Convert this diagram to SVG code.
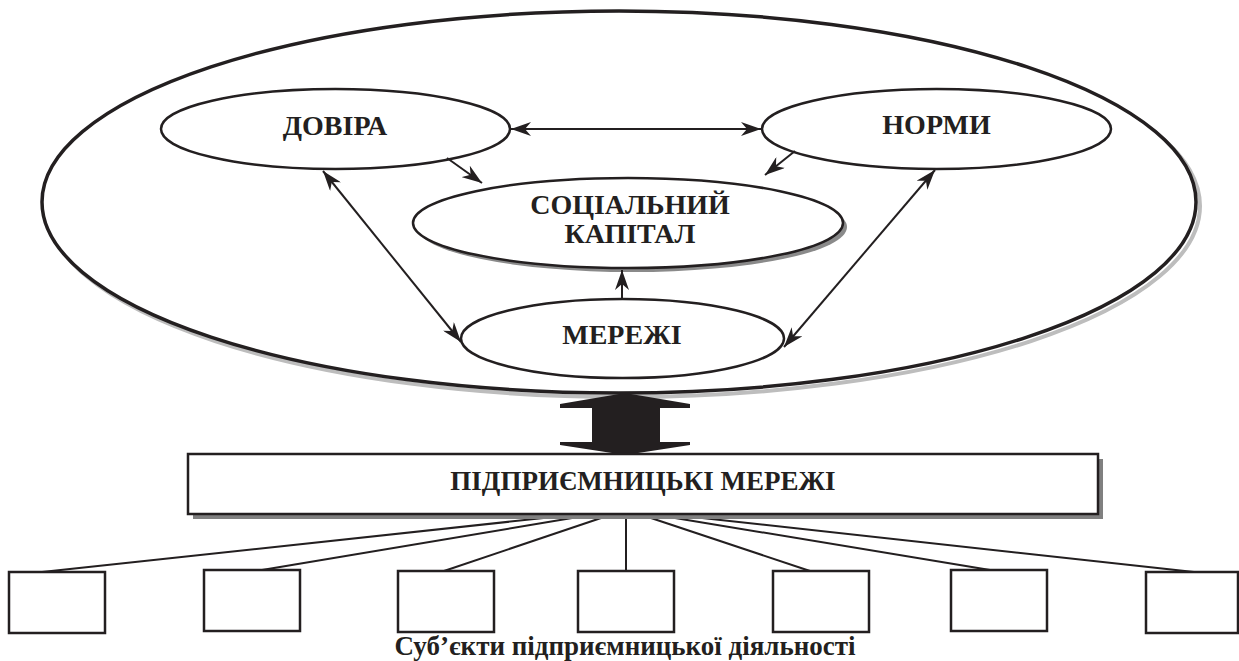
<svg xmlns="http://www.w3.org/2000/svg" width="1239" height="661" viewBox="0 0 1239 661">
<defs>
<style>
.t{font-family:"Liberation Serif","Times New Roman",serif;font-weight:bold;font-size:28px;fill:#231f20;text-anchor:middle}
.t2{font-size:27px}
.e{fill:#fff;stroke:#231f20;stroke-width:2.5}
.ln{stroke:#231f20;stroke-width:2;fill:none}
.bx{fill:#fff;stroke:#231f20;stroke-width:2.5}
</style>
<marker id="ah" viewBox="0 0 20 14" refX="20" refY="7" markerWidth="20" markerHeight="14" markerUnits="userSpaceOnUse" orient="auto-start-reverse">
<path d="M0,0 L20,7 L0,14 L6,7 z" fill="#231f20"/>
</marker>
</defs>
<g id="outer">
<ellipse cx="623" cy="206" rx="577" ry="191" fill="none" stroke="#bdbdbd" stroke-width="4"/>
<ellipse cx="619" cy="202" rx="577" ry="191" fill="#fff" stroke="#231f20" stroke-width="3.5"/>
</g>
<g id="big-arrow">
<polygon points="625,393 690,404 690,408 660,408 660,442 690,442 690,445 625,455 560,445 560,442 592,442 592,408 560,408 560,404" fill="#231f20"/>
</g>
<g id="dovira">
<ellipse class="e" cx="335.5" cy="129" rx="174.5" ry="40"/>
<text class="t" x="335" y="135">ДОВІРА</text>
</g>
<g id="normy">
<ellipse class="e" cx="936.5" cy="129" rx="174.5" ry="40"/>
<text class="t" x="936.5" y="134">НОРМИ</text>
</g>
<g id="capital">
<ellipse cx="632" cy="227" rx="215" ry="45" fill="#8a8a8a"/>
<ellipse class="e" cx="628" cy="223" rx="215" ry="45"/>
<text class="t" x="630" y="214">СОЦІАЛЬНИЙ</text>
<text class="t" x="630" y="243">КАПІТАЛ</text>
</g>
<g id="merezhi">
<ellipse class="e" cx="622.5" cy="338.5" rx="161.5" ry="39.5"/>
<text class="t" x="622" y="344">МЕРЕЖІ</text>
</g>
<g id="connectors">
<line class="ln" x1="511" y1="129" x2="761" y2="129" marker-start="url(#ah)" marker-end="url(#ah)"/>
<line class="ln" x1="447" y1="158" x2="482" y2="183" marker-end="url(#ah)"/>
<line class="ln" x1="795" y1="151" x2="765" y2="175" marker-end="url(#ah)"/>
<line class="ln" x1="323" y1="171" x2="461" y2="342" marker-start="url(#ah)" marker-end="url(#ah)"/>
<line class="ln" x1="935" y1="170" x2="784" y2="347" marker-start="url(#ah)" marker-end="url(#ah)"/>
<line class="ln" x1="622" y1="299" x2="622" y2="270" marker-end="url(#ah)"/>
<line class="ln" x1="553" y1="517" x2="42" y2="572"/>
<line class="ln" x1="578" y1="517" x2="262" y2="570"/>
<line class="ln" x1="604" y1="517" x2="444" y2="571"/>
<line class="ln" x1="626" y1="517" x2="626" y2="571"/>
<line class="ln" x1="648" y1="517" x2="810" y2="571"/>
<line class="ln" x1="669" y1="517" x2="990" y2="570"/>
<line class="ln" x1="693" y1="517" x2="1194" y2="572"/>
</g>
<g id="network">
<rect x="193" y="459" width="910" height="60" fill="#808080"/>
<rect x="188" y="454" width="910" height="60" fill="#fff" stroke="#231f20" stroke-width="2.5"/>
<text class="t t2" x="643" y="490">ПІДПРИЄМНИЦЬКІ МЕРЕЖІ</text>
</g>
<g id="box1"><rect class="bx" x="9" y="572" width="96" height="61"/></g>
<g id="box2"><rect class="bx" x="204" y="570" width="96" height="61"/></g>
<g id="box3"><rect class="bx" x="398" y="571" width="96" height="61"/></g>
<g id="box4"><rect class="bx" x="578" y="571" width="96" height="61"/></g>
<g id="box5"><rect class="bx" x="773" y="571" width="96" height="61"/></g>
<g id="box6"><rect class="bx" x="951" y="570" width="96" height="61"/></g>
<g id="box7"><rect class="bx" x="1146" y="572" width="92" height="61"/></g>
<g id="caption">
<text class="t t2" x="625" y="655">Суб’єкти підприємницької діяльності</text>
</g>
</svg>
